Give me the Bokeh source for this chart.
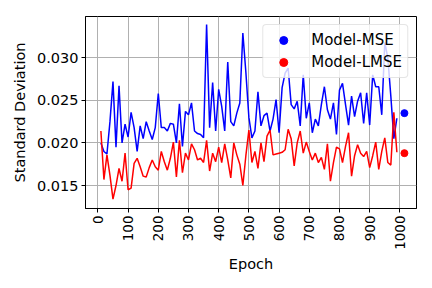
import math
from bokeh.plotting import figure
from bokeh.models import FixedTicker, NumeralTickFormatter, Legend, LegendItem, Range1d
from bokeh.embed import file_html
from bokeh.resources import INLINE

epochs = list(range(10, 1000, 10))

mse = [0.0200, 0.0190, 0.0187, 0.0225, 0.0272, 0.0195, 0.0267, 0.0200, 0.0222, 0.0207,
       0.0236, 0.0218, 0.0190, 0.0220, 0.0205, 0.0225, 0.0214, 0.0204, 0.0218, 0.0258,
       0.0218, 0.0218, 0.0214, 0.0223, 0.0222, 0.0200, 0.0246, 0.0196, 0.0237, 0.0233,
       0.0247, 0.0214, 0.0211, 0.0210, 0.0206, 0.0339, 0.0218, 0.0271, 0.0214, 0.0263,
       0.0243, 0.0214, 0.0295, 0.0225, 0.0220, 0.0235, 0.0247, 0.0329, 0.0283, 0.0230,
       0.0206, 0.0214, 0.0260, 0.0220, 0.0232, 0.0235, 0.0214, 0.0228, 0.0251, 0.0212,
       0.0265, 0.0282, 0.0288, 0.0245, 0.0240, 0.0249, 0.0220, 0.0280, 0.0229, 0.0247,
       0.0212, 0.0228, 0.0220, 0.0245, 0.0266, 0.0239, 0.0228, 0.0247, 0.0210, 0.0262,
       0.0270, 0.0245, 0.0221, 0.0255, 0.0231, 0.0249, 0.0259, 0.0223, 0.0259, 0.0221,
       0.0280, 0.0266, 0.0266, 0.0233, 0.0318, 0.0300, 0.0255, 0.0205, 0.0229]

lmse = [0.0214, 0.0157, 0.0186, 0.0162, 0.0134, 0.0150, 0.0170, 0.0155, 0.0188, 0.0145,
        0.0147, 0.0176, 0.0182, 0.0172, 0.0161, 0.0160, 0.0171, 0.0180, 0.0172, 0.0168,
        0.0190, 0.0178, 0.0168, 0.0182, 0.0201, 0.0160, 0.0203, 0.0165, 0.0188, 0.0180,
        0.0199, 0.0192, 0.0180, 0.0182, 0.0177, 0.0203, 0.0167, 0.0188, 0.0178, 0.0195,
        0.0177, 0.0199, 0.0180, 0.0159, 0.0200, 0.0186, 0.0175, 0.0150, 0.0185, 0.0215,
        0.0177, 0.0190, 0.0170, 0.0200, 0.0178, 0.0208, 0.0215, 0.0186, 0.0187, 0.0188,
        0.0189, 0.0192, 0.0216, 0.0205, 0.0173, 0.0200, 0.0214, 0.0188, 0.0201, 0.0190,
        0.0180, 0.0188, 0.0177, 0.0183, 0.0169, 0.0199, 0.0155, 0.0177, 0.0195, 0.0193,
        0.0177, 0.0196, 0.0212, 0.0161, 0.0185, 0.0198, 0.0188, 0.0184, 0.0190, 0.0171,
        0.0185, 0.0201, 0.0169, 0.0190, 0.0206, 0.0177, 0.0174, 0.0236, 0.0189]

final_epoch = [1015]
final_mse = [0.0235]
final_lmse = [0.0188]

x_ticks = list(range(0, 1001, 100))
y_ticks = [0.015, 0.020, 0.025, 0.030]

FONT = "DejaVu Sans"

p = figure(width=418, height=280, output_backend="svg", toolbar_location=None,
           x_range=Range1d(-41, 1055), y_range=Range1d(0.0123, 0.03485),
           min_border_left=85, min_border_right=2, min_border_top=16, min_border_bottom=72)

p.line(epochs, mse, line_color="#0000ff", line_width=1.5)
p.line(epochs, lmse, line_color="#ff0000", line_width=1.5)
r1 = p.scatter(final_epoch, final_mse, size=7, fill_color="#0000ff", line_color="#0000ff")
r2 = p.scatter(final_epoch, final_lmse, size=7, fill_color="#ff0000", line_color="#ff0000")

legend = Legend(items=[LegendItem(label="Model-MSE", renderers=[r1]),
                       LegendItem(label="Model-LMSE", renderers=[r2])],
                location="top_right")
legend.margin = 8
legend.padding = 5
legend.glyph_width = 30
legend.glyph_height = 20
legend.label_height = 20
legend.label_standoff = 13
legend.spacing = 2
legend.label_text_font = FONT
legend.label_text_font_size = "15px"
legend.label_text_color = "black"
legend.border_line_color = "#cccccc"
legend.background_fill_alpha = 0.8
try:
    legend.border_radius = 4
except Exception:
    pass
p.add_layout(legend)

p.xaxis.ticker = FixedTicker(ticks=x_ticks)
p.yaxis.ticker = FixedTicker(ticks=y_ticks)
p.yaxis.formatter = NumeralTickFormatter(format="0.000")
p.xaxis.major_label_orientation = math.pi / 2
p.xaxis.axis_label = "Epoch"
p.yaxis.axis_label = "Standard Deviation"

for ax in (p.xaxis, p.yaxis):
    ax.axis_label_text_font = FONT
    ax.axis_label_text_font_size = "14.5px"
    ax.axis_label_text_font_style = "normal"
    ax.axis_label_text_color = "black"
    ax.major_label_text_font = FONT
    ax.major_label_text_color = "black"
    ax.axis_line_color = "black"
    ax.major_tick_line_color = "black"
    ax.major_tick_out = 4
    ax.major_tick_in = 0
    ax.minor_tick_line_color = None
    ax.major_label_standoff = 3

p.yaxis.major_label_text_font_size = "14.5px"
p.xaxis.major_label_text_font_size = "13.5px"
p.yaxis.axis_label_standoff = 6
p.xaxis.axis_label_standoff = 3

p.grid.grid_line_color = "#b0b0b0"
p.grid.grid_line_width = 1
p.outline_line_color = "black"
p.outline_line_alpha = 1
p.background_fill_color = "white"
p.border_fill_color = "white"

open("out.html", "w").write(file_html(p, INLINE))
